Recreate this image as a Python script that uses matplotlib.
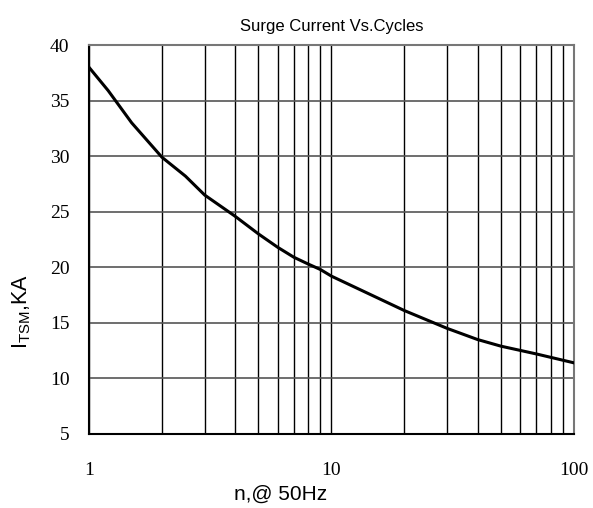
import matplotlib
matplotlib.use("Agg")
from matplotlib import pyplot as plt
from matplotlib.ticker import FixedLocator, NullFormatter

# values
cycles = [1, 1.2, 1.5, 2, 2.5, 3, 4, 5, 6, 7, 8, 9, 10, 20, 30, 40, 50, 70, 100]
surge_ka = [38.0, 35.9, 33.0, 29.9, 28.2, 26.5, 24.6, 23.0, 21.8, 20.9, 20.3, 19.8, 19.2,
            16.1, 14.5, 13.5, 12.9, 12.2, 11.4]

x_ticks = [1, 10, 100]
x_tick_labels = ["1", "10", "100"]
y_ticks = [5, 10, 15, 20, 25, 30, 35, 40]

fig = plt.figure(figsize=(5.93, 5.08), dpi=100)
ax = fig.add_axes((0.150, 0.1457, 0.818, 0.7657))

ax.plot(cycles, surge_ka, color="black", lw=2.2, zorder=3)

ax.set_xscale("log")
ax.set_xlim(1, 100)
ax.set_ylim(5, 40)

ax.xaxis.set_major_locator(FixedLocator(x_ticks))
ax.set_xticklabels(x_tick_labels)
ax.xaxis.set_minor_locator(FixedLocator([m * d for d in (1, 10) for m in range(2, 10)]))
ax.xaxis.set_minor_formatter(NullFormatter())
ax.set_yticks(y_ticks)

ax.grid(True, which="both", axis="x", color="black", lw=1.0)
ax.grid(True, which="major", axis="y", color="#555555", lw=1.2)

ax.tick_params(axis="both", which="both", length=0)
ax.tick_params(axis="x", pad=20)
ax.tick_params(axis="y", pad=14)
for lab in ax.get_xticklabels() + ax.get_yticklabels():
    lab.set_fontfamily("Liberation Serif")
    lab.set_fontsize(14)

for side in ("top", "right"):
    ax.spines[side].set_color("#777777")
    ax.spines[side].set_linewidth(1.5)
for side in ("left", "bottom"):
    ax.spines[side].set_color("black")
    ax.spines[side].set_linewidth(1.5)

ax.set_title("Surge Current Vs.Cycles", fontfamily="Liberation Sans", fontsize=12, pad=10)
ax.set_xlabel("n,@ 50Hz", fontfamily="Liberation Sans", fontsize=15)
ax.xaxis.set_label_coords(0.394, -0.13)
ax.set_ylabel(r"I$_{\mathregular{TSM}}$,KA", fontfamily="Liberation Sans", fontsize=15.5)
ax.yaxis.set_label_coords(-0.115, 0.316)

fig.savefig("out.png", dpi=100)
plt.close(fig)
